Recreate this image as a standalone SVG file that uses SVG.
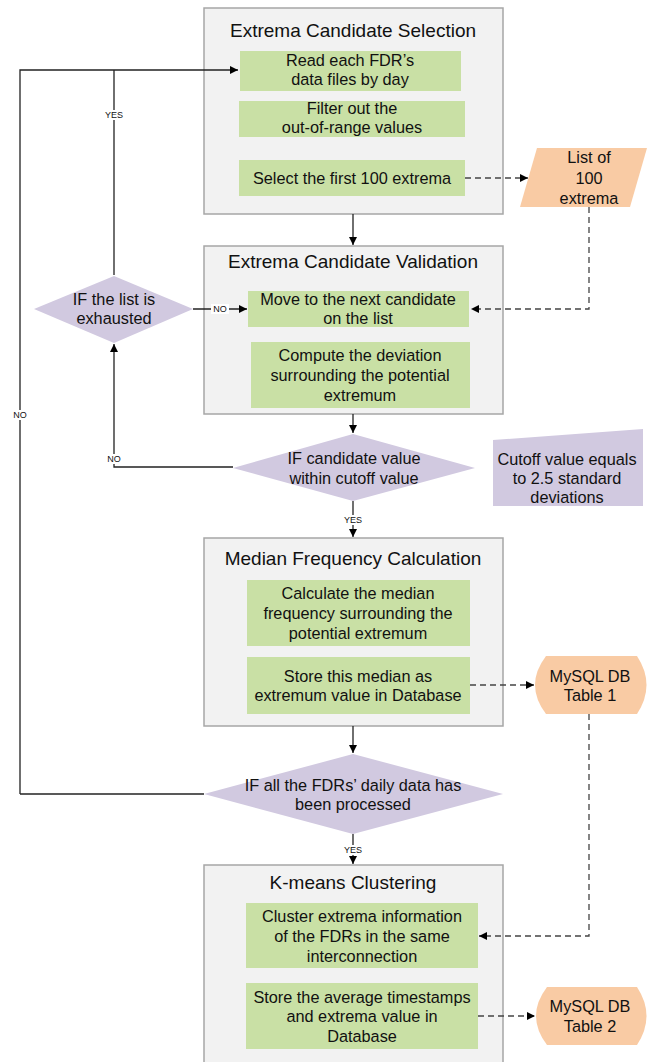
<svg xmlns="http://www.w3.org/2000/svg" width="647" height="1062" viewBox="0 0 647 1062">
<defs>
<style>
.grp{fill:#f2f2f2;stroke:#a6a6a6;stroke-width:1.5}
.step{fill:#c9e0a5}
.dec{fill:#d1c9e0}
.io{fill:#f9cba4}
text{font-family:"Liberation Sans",Arial,sans-serif;fill:#111;text-anchor:middle}
.t{font-size:19px}
.b{font-size:16.3px}
.lbl{font-size:9px}
.ln{fill:none;stroke:#222;stroke-width:1.3}
.ds{fill:none;stroke:#444;stroke-width:1.3;stroke-dasharray:6,4}
.bg{fill:#fff}
</style>
<marker id="ah" viewBox="0 0 10 10" refX="10" refY="5" markerWidth="8" markerHeight="8" markerUnits="userSpaceOnUse" orient="auto"><path d="M0,0 L10,5 L0,10 Z" fill="#000"/></marker>
</defs>

<g id="selection">
<rect class="grp" x="204" y="8" width="299" height="206"/>
<text class="t" x="353" y="37">Extrema Candidate Selection</text>
</g>
<g id="read">
<rect class="step" x="240" y="51" width="221" height="40"/>
<text class="b" x="350" y="66">Read each FDR’s</text>
<text class="b" x="350" y="85">data files by day</text>
</g>
<g id="filter">
<rect class="step" x="239" y="101" width="226" height="36"/>
<text class="b" x="352" y="114">Filter out the</text>
<text class="b" x="352" y="133">out-of-range values</text>
</g>
<g id="select">
<rect class="step" x="239" y="160" width="226" height="36"/>
<text class="b" x="352" y="184">Select the first 100 extrema</text>
</g>
<g id="list100">
<polygon class="io" points="537,148 647,148 630,207 520,207"/>
<text class="b" x="589" y="163">List of</text>
<text class="b" x="589" y="184">100</text>
<text class="b" x="589" y="204">extrema</text>
</g>

<g id="validation">
<rect class="grp" x="204" y="246" width="299" height="168"/>
<text class="t" x="353" y="268">Extrema Candidate Validation</text>
</g>
<g id="move">
<rect class="step" x="248" y="291" width="221" height="36"/>
<text class="b" x="358" y="305">Move to the next candidate</text>
<text class="b" x="358" y="324">on the list</text>
</g>
<g id="compute">
<rect class="step" x="251" y="342" width="219" height="66"/>
<text class="b" x="360" y="361">Compute the deviation</text>
<text class="b" x="360" y="381">surrounding the potential</text>
<text class="b" x="360" y="401">extremum</text>
</g>
<g id="exhausted">
<polygon class="dec" points="34,309 114,276 193,309 114,343"/>
<text class="b" x="114" y="305">IF the list is</text>
<text class="b" x="114" y="324">exhausted</text>
</g>
<g id="cutoffcheck">
<polygon class="dec" points="233,468 353,434 475,468 353,501"/>
<text class="b" x="354" y="464">IF candidate value</text>
<text class="b" x="354" y="484">within cutoff value</text>
</g>
<g id="cutoffnote">
<polygon class="dec" points="493,440 643,429 643,506 493,506"/>
<text class="b" x="567" y="465">Cutoff value equals</text>
<text class="b" x="567" y="484">to 2.5 standard</text>
<text class="b" x="567" y="503">deviations</text>
</g>

<g id="median">
<rect class="grp" x="204" y="538" width="299" height="188"/>
<text class="t" x="353" y="565">Median Frequency Calculation</text>
</g>
<g id="calc">
<rect class="step" x="247" y="580" width="223" height="66"/>
<text class="b" x="358" y="599">Calculate the median</text>
<text class="b" x="358" y="619">frequency surrounding the</text>
<text class="b" x="358" y="639">potential extremum</text>
</g>
<g id="store1">
<rect class="step" x="247" y="657" width="223" height="57"/>
<text class="b" x="358" y="682">Store this median as</text>
<text class="b" x="358" y="701">extremum value in Database</text>
</g>
<g id="table1">
<path class="io" d="M546,656 L637,656 Q656,685 637,714 L546,714 Q524,685 546,656 Z"/>
<text class="b" x="590" y="682">MySQL DB</text>
<text class="b" x="590" y="701">Table 1</text>
</g>
<g id="allprocessed">
<polygon class="dec" points="204,794 353,754 503,794 353,834"/>
<text class="b" x="353" y="791">IF all the FDRs’ daily data has</text>
<text class="b" x="353" y="810">been processed</text>
</g>

<g id="kmeans">
<rect class="grp" x="204" y="865" width="299" height="210"/>
<text class="t" x="353" y="889">K-means Clustering</text>
</g>
<g id="cluster">
<rect class="step" x="246" y="903" width="232" height="65"/>
<text class="b" x="362" y="922">Cluster extrema information</text>
<text class="b" x="362" y="942">of the FDRs in the same</text>
<text class="b" x="362" y="962">interconnection</text>
</g>
<g id="store2">
<rect class="step" x="246" y="983" width="232" height="66"/>
<text class="b" x="362" y="1003">Store the average timestamps</text>
<text class="b" x="362" y="1022">and extrema value in</text>
<text class="b" x="362" y="1042">Database</text>
</g>
<g id="table2">
<path class="io" d="M547,987 L637,987 Q656,1016 637,1045 L547,1045 Q525,1016 547,987 Z"/>
<text class="b" x="590" y="1012">MySQL DB</text>
<text class="b" x="590" y="1032">Table 2</text>
</g>

<g id="connectors">
<path class="ln" d="M20,794 L20,70 L238,70" marker-end="url(#ah)"/>
<path class="ln" d="M114,275 L114,70"/>
<path class="ln" d="M353,214 L353,245" marker-end="url(#ah)"/>
<path class="ln" d="M193,309 L247,309" marker-end="url(#ah)"/>
<path class="ln" d="M353,414 L353,433" marker-end="url(#ah)"/>
<path class="ln" d="M233,467 L114,467 L114,344" marker-end="url(#ah)"/>
<path class="ln" d="M353,501 L353,537" marker-end="url(#ah)"/>
<path class="ln" d="M353,726 L353,753" marker-end="url(#ah)"/>
<path class="ln" d="M204,794 L20,794"/>
<path class="ln" d="M353,834 L353,864" marker-end="url(#ah)"/>
<path class="ds" d="M465,178 L528,178" marker-end="url(#ah)"/>
<path class="ds" d="M589,207 L589,309 L471,309" marker-end="url(#ah)"/>
<path class="ds" d="M470,685 L534,685" marker-end="url(#ah)"/>
<path class="ds" d="M589,714 L589,936 L479,936" marker-end="url(#ah)"/>
<path class="ds" d="M478,1016 L535,1016" marker-end="url(#ah)"/>
<rect class="bg" x="104" y="110" width="20" height="10"/>
<text class="lbl" x="114" y="118">YES</text>
<rect class="bg" x="211" y="304" width="18" height="10"/>
<text class="lbl" x="220" y="312">NO</text>
<rect class="bg" x="105" y="454" width="18" height="10"/>
<text class="lbl" x="114" y="462">NO</text>
<rect class="bg" x="10" y="410" width="20" height="10"/>
<text class="lbl" x="20" y="418">NO</text>
<rect class="bg" x="342" y="515" width="22" height="10"/>
<text class="lbl" x="353" y="523">YES</text>
<rect class="bg" x="342" y="845" width="22" height="10"/>
<text class="lbl" x="353" y="853">YES</text>
</g>
</svg>
